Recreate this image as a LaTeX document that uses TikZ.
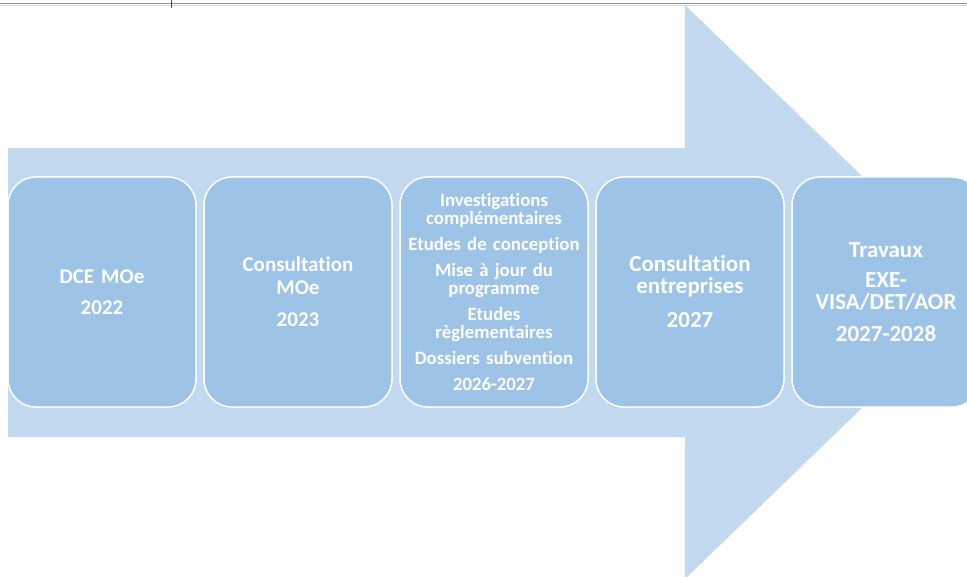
\documentclass[tikz,border=0pt]{standalone}
\usepackage{fontspec}
\setmainfont[Ligatures={NoCommon}]{Carlito}
\usetikzlibrary{positioning}
\definecolor{arrowblue}{HTML}{C3D9EF}
\definecolor{phaseblue}{HTML}{9DC3E6}

\begin{document}
\begin{tikzpicture}[
  x=1pt, y=-1pt,
  phase/.style={draw=white, line width=1.5pt, fill=phaseblue, rounded corners=28pt,
    minimum width=188pt, minimum height=230pt, text width=182pt, inner sep=1pt,
    align=center, text=white},
  bigtext/.style={font=\bfseries\fontsize{21}{23}\selectfont},
  midtext/.style={font=\bfseries\fontsize{23}{22}\selectfont},
  smalltext/.style={font=\bfseries\fontsize{18.8}{18}\selectfont},
  node distance=6.5pt
]
\useasboundingbox (0,0) rectangle (967,577);
\clip (0,0) rectangle (967,577);

% bandeau du haut
\draw[gray!85, line width=1pt] (0,3.5) -- (967,3.5);
\draw[gray!30, line width=0.8pt] (0,5) -- (967,5);
\draw[black!70, line width=0.6pt] (171,0) -- (171,8);

% grande fleche
\fill[arrowblue] (8,148) -- (685,148) -- (685,5) -- (982,292) -- (685,579)
  -- (685,437) -- (8,437) -- cycle;

% etapes
\node[phase, bigtext] (dce) at (102,292) {DCE MOe\\[8pt]2022};
\node[phase, bigtext, right=of dce] (cmoe) {Consultation\\MOe\\[9pt]2023};
\node[phase, smalltext, right=of cmoe] (etudes) {Investigations\\compl\'ementaires\\[8pt]%
  Etudes de conception\\[8pt]Mise \`a jour du\\programme\\[8pt]Etudes\\r\`eglementaires\\[8pt]%
  Dossiers subvention\\[8pt]2026-2027};
\node[phase, midtext, right=of etudes] (centr) {Consultation\\entreprises\\[12pt]2027};
\node[phase, midtext, right=of centr] (travaux) {Travaux\\[8pt]EXE-\\VISA/DET/AOR\\[10pt]2027-2028};
\end{tikzpicture}
\end{document}
